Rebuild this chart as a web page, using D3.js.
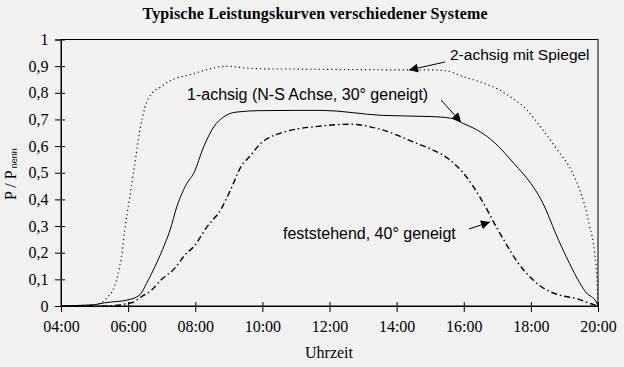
<!DOCTYPE html>
<html>
<head>
<meta charset="utf-8">
<script src="https://cdn.jsdelivr.net/npm/d3@7"></script>
<style>
body { margin: 0; background: #f2f2f2; }
svg { display: block; }
</style>
</head>
<body>
<svg width="624" height="367"></svg>
<script>
// time of day (hours) and P / Pnenn for each system
var timeTwoAxis = [4.0, 4.5, 5.0, 5.2, 5.4, 5.55, 5.7, 5.8, 5.9, 6.05, 6.2, 6.35, 6.5, 6.7, 6.95, 7.25, 7.9, 8.45, 8.9, 9.5, 10, 11, 12, 13, 14, 15, 15.5, 16, 16.5, 17, 17.5, 17.8, 18.3, 18.8, 19.2, 19.5, 19.6, 19.75, 19.9, 19.97, 20];
var valTwoAxis = [0, 0.002, 0.005, 0.012, 0.035, 0.06, 0.12, 0.185, 0.285, 0.41, 0.535, 0.66, 0.745, 0.797, 0.82, 0.845, 0.87, 0.89, 0.9, 0.893, 0.89, 0.889, 0.888, 0.887, 0.886, 0.886, 0.882, 0.86, 0.84, 0.815, 0.775, 0.746, 0.67, 0.584, 0.51, 0.42, 0.38, 0.3, 0.2, 0.1, 0];

var timeOneAxis = [4.0, 4.5, 5.0, 5.3, 6.0, 6.35, 6.55, 6.8, 7.1, 7.25, 7.45, 7.75, 7.95, 8.25, 8.55, 8.85, 9.25, 9.9, 11, 11.75, 13.6, 15, 15.6, 16, 16.5, 16.9, 17.5, 18, 18.3, 18.85, 19.15, 19.45, 19.65, 19.95, 20];
var valOneAxis = [0, 0.002, 0.005, 0.012, 0.023, 0.042, 0.085, 0.148, 0.235, 0.285, 0.372, 0.46, 0.497, 0.597, 0.672, 0.71, 0.728, 0.733, 0.734, 0.734, 0.715, 0.711, 0.705, 0.684, 0.653, 0.615, 0.534, 0.46, 0.4, 0.24, 0.16, 0.088, 0.05, 0.015, 0];

var timeFixed = [4.0, 5.25, 6.1, 6.4, 6.7, 7.0, 7.4, 7.7, 7.95, 8.35, 8.75, 9.05, 9.35, 9.65, 9.95, 10.15, 10.65, 11.65, 12.6, 13.6, 14.6, 15, 15.6, 16, 16.5, 17, 17.3, 17.6, 18, 18.4, 18.85, 19.35, 19.75, 20];
var valFixed = [0, 0, 0.012, 0.035, 0.06, 0.1, 0.143, 0.193, 0.222, 0.297, 0.36, 0.435, 0.52, 0.565, 0.61, 0.628, 0.653, 0.674, 0.682, 0.66, 0.61, 0.59, 0.547, 0.497, 0.405, 0.29, 0.225, 0.165, 0.106, 0.065, 0.041, 0.028, 0.01, 0];

var xTicks = [4, 6, 8, 10, 12, 14, 16, 18, 20];
var yTicks = [0, 0.1, 0.2, 0.3, 0.4, 0.5, 0.6, 0.7, 0.8, 0.9, 1];

var title = "Typische Leistungskurven verschiedener Systeme";
var xLabel = "Uhrzeit";

var svg = d3.select("svg");
var plotLeft = 61, plotRight = 598, plotTop = 39.5, plotBottom = 306;

var x = d3.scaleLinear().domain([4, 20]).range([plotLeft, plotRight]);
var y = d3.scaleLinear().domain([0, 1]).range([plotBottom, plotTop]);

var serif = "'Liberation Serif', 'Times New Roman', serif";
var sans = "'Liberation Sans', Arial, sans-serif";

// arrow head
svg.append("defs").append("marker")
	.attr("id", "arr")
	.attr("viewBox", "0 0 10 10")
	.attr("refX", 10).attr("refY", 5)
	.attr("markerWidth", 12).attr("markerHeight", 9)
	.attr("markerUnits", "userSpaceOnUse")
	.attr("orient", "auto")
	.append("path")
	.attr("d", "M0,0 L10,5 L0,10 z")
	.attr("fill", "#000");

// frame
svg.append("rect")
	.attr("x", plotLeft).attr("y", plotTop)
	.attr("width", plotRight - plotLeft).attr("height", plotBottom - plotTop)
	.attr("fill", "none").attr("stroke", "#000");

// axes
var gx = svg.append("g")
	.attr("transform", "translate(0," + plotBottom + ")")
	.call(d3.axisBottom(x).tickValues(xTicks).tickSize(6)
		.tickFormat(d => (d < 10 ? "0" : "") + d + ":00"));
gx.selectAll(".tick line").attr("y1", -4).attr("y2", 6);

var gy = svg.append("g")
	.attr("transform", "translate(" + plotLeft + ",0)")
	.call(d3.axisLeft(y).tickValues(yTicks).tickSize(6)
		.tickFormat(d => d3.format(".1~f")(d).replace(".", ",")));
gy.selectAll(".tick line").attr("x1", -6).attr("x2", 4);

svg.selectAll(".domain").attr("stroke", "#000");
svg.selectAll(".tick line").attr("stroke", "#000");
svg.selectAll(".tick text")
	.attr("font-family", serif)
	.attr("font-size", 16)
	.attr("fill", "#000");
gx.selectAll(".tick text").attr("dy", null).attr("y", 26);
gy.selectAll(".tick text").attr("x", -12.5);

// curves
var line = d3.line()
	.x(d => x(d[0]))
	.y(d => y(d[1]))
	.curve(d3.curveMonotoneX);

svg.append("path")
	.attr("d", line(d3.zip(timeTwoAxis, valTwoAxis)))
	.attr("fill", "none").attr("stroke", "#000")
	.attr("stroke-width", 1.1)
	.attr("stroke-dasharray", "1.2,3");

svg.append("path")
	.attr("d", line(d3.zip(timeOneAxis, valOneAxis)))
	.attr("fill", "none").attr("stroke", "#000")
	.attr("stroke-width", 1);

svg.append("path")
	.attr("d", line(d3.zip(timeFixed, valFixed)))
	.attr("fill", "none").attr("stroke", "#000")
	.attr("stroke-width", 1.4)
	.attr("stroke-dasharray", "6,3,1.5,3");

// annotations
var notes = [
	{ text: "2-achsig mit Spiegel", tx: 450, ty: 60, size: 15.5, from: [445, 62], to: [409, 70] },
	{ text: "1-achsig (N-S Achse, 30° geneigt)", tx: 187, ty: 100, size: 16, from: [441, 100], to: [461, 122] },
	{ text: "feststehend, 40° geneigt", tx: 283, ty: 239, size: 16, from: [469, 229], to: [490, 222] }
];
notes.forEach(n => {
	svg.append("text")
		.attr("x", n.tx).attr("y", n.ty)
		.attr("font-family", sans).attr("font-size", n.size)
		.text(n.text);
	svg.append("line")
		.attr("x1", n.from[0]).attr("y1", n.from[1])
		.attr("x2", n.to[0]).attr("y2", n.to[1])
		.attr("stroke", "#000")
		.attr("marker-end", "url(#arr)");
});

// title and axis labels
svg.append("text")
	.attr("x", 315).attr("y", 18.5)
	.attr("text-anchor", "middle")
	.attr("font-family", serif).attr("font-size", 16).attr("font-weight", "bold")
	.attr("textLength", 345).attr("lengthAdjust", "spacing")
	.text(title);

svg.append("text")
	.attr("x", 329).attr("y", 358)
	.attr("text-anchor", "middle")
	.attr("font-family", serif).attr("font-size", 16)
	.text(xLabel);

var yl = svg.append("g").attr("transform", "translate(16,200) rotate(-90)");
var pText = yl.append("text")
	.attr("font-family", serif).attr("font-size", 16)
	.text("P / P");
var w = pText.node().getComputedTextLength();
yl.append("rect")
	.attr("x", w + 1).attr("y", -6)
	.attr("width", 21).attr("height", 8)
	.attr("fill", "#fff");
yl.append("text")
	.attr("x", w + 2).attr("y", 1)
	.attr("font-family", sans).attr("font-size", 9)
	.text("nenn");
</script>
</body>
</html>
